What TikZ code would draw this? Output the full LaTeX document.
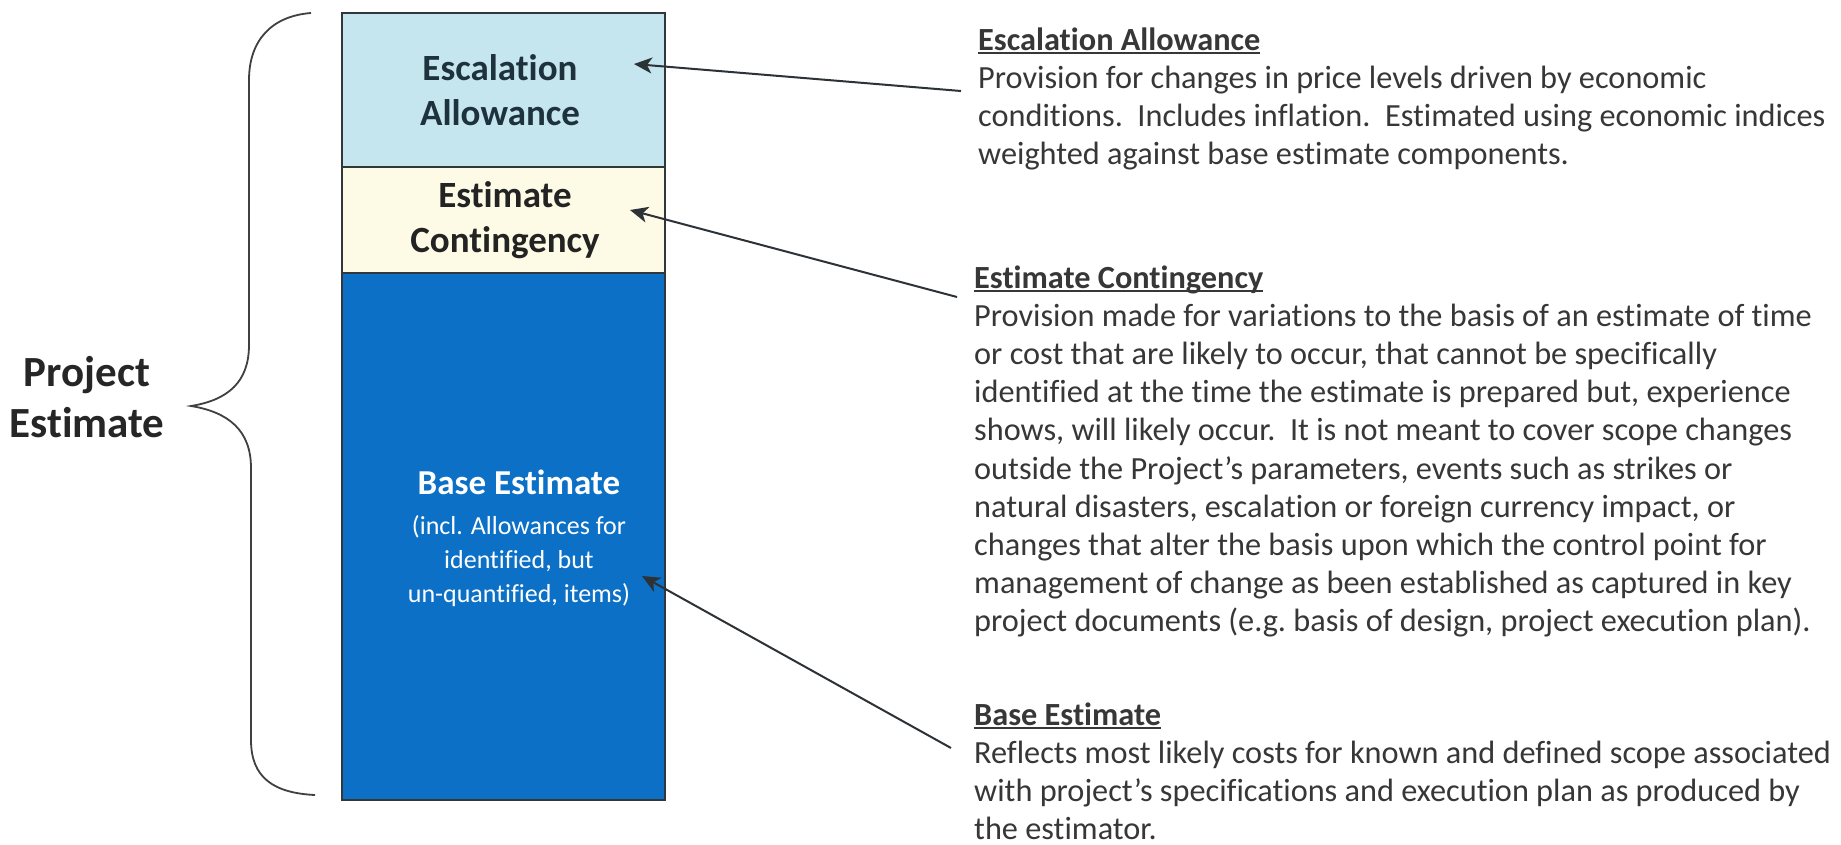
\documentclass[tikz,border=0pt]{standalone}
\usepackage{fontspec}
\setmainfont{Carlito}[Ligatures=NoCommon]
\usetikzlibrary{arrows.meta}
\definecolor{escfill}{RGB}{198,230,239}
\definecolor{confill}{RGB}{253,251,230}
\definecolor{basefill}{RGB}{11,112,198}
\definecolor{boxline}{RGB}{50,55,60}
\definecolor{esctext}{RGB}{30,50,62}
\definecolor{context}{RGB}{35,35,35}
\definecolor{bodytext}{RGB}{55,55,55}
\definecolor{arrowc}{RGB}{45,50,55}
\newcommand\hd[1]{\leavevmode\setbox0=\hbox{\bfseries #1}\rlap{\rule[-3.5pt]{\wd0}{1.8pt}}\box0}
\begin{document}
\begin{tikzpicture}[x=1pt,y=-1pt,
  layer/.style={draw=boxline,line width=2pt,rectangle,inner sep=0pt,anchor=north west},
  boxtitle/.style={inner sep=0pt,anchor=base,font=\fontsize{37}{45}\selectfont\bfseries},
  smalltext/.style={inner sep=0pt,anchor=base,font=\fontsize{26}{34}\selectfont,text=white},
  bigtitle/.style={inner sep=0pt,anchor=base,font=\fontsize{43}{51}\selectfont\bfseries,text=black!85},
  desc/.style={inner sep=0pt,anchor=base west,text=bodytext,font=\fontsize{32.3}{38.2}\selectfont},
  pointer/.style={draw=arrowc,line width=2pt,-{Stealth[length=18pt,width=16pt,inset=5pt]}},
  bracestyle/.style={draw=black!75,line width=1.8pt}]
\useasboundingbox (0,0) rectangle (1841,844);
\fill[white] (0,0) rectangle (1841,844);
% stacked layers
\node[layer,fill=basefill,minimum width=323pt,minimum height=527pt] (base) at (341,272) {};
\node[layer,fill=confill,minimum width=323pt,minimum height=106pt] (con) at (341,166) {};
\node[layer,fill=escfill,minimum width=323pt,minimum height=154pt] (esc) at (341,12) {};
% layer titles
\node[boxtitle,text=esctext] (esct) at (500,80) {\parbox[t]{320pt}{\centering Escalation\\Allowance}};
\node[boxtitle,text=context] (cont) at (505,207) {\parbox[t]{320pt}{\centering Estimate\\Contingency}};
\node[boxtitle,font=\fontsize{35}{43}\selectfont\bfseries,text=white] (baset) at (519,494) {Base Estimate};
\node[smalltext] (basesub) at (519,534) {\parbox[t]{320pt}{\centering (incl. Allowances for\\identified, but\\un-quantified, items)}};
% project estimate + brace
\node[bigtitle] (proj) at (87,386) {\parbox[t]{200pt}{\centering Project\\Estimate}};
\draw[bracestyle] (311,13) .. controls (272,16) and (249,40) .. (249,80) -- (249,345)
  .. controls (249,382) and (228,400) .. (191,406)
  .. controls (228,412) and (251,430) .. (251,468) -- (251,740)
  .. controls (251,778) and (274,793) .. (315,795);
% descriptions
\node[desc] (escd) at (978,50) {\parbox[t]{860pt}{\raggedright\hd{Escalation Allowance}\\
Provision for changes in price levels driven by economic\\
conditions.\ \ Includes inflation.\ \ Estimated using economic indices\\
weighted against base estimate components.}};
\node[desc] (cond) at (974,288) {\parbox[t]{860pt}{\raggedright\hd{Estimate Contingency}\\
Provision made for variations to the basis of an estimate of time\\
or cost that are likely to occur, that cannot be specifically\\
identified at the time the estimate is prepared but, experience\\
shows, will likely occur.\ \ It is not meant to cover scope changes\\
outside the Project’s parameters, events such as strikes or\\
natural disasters, escalation or foreign currency impact, or\\
changes that alter the basis upon which the control point for\\
management of change as been established as captured in key\\
project documents (e.g.\ basis of design, project execution plan).}};
\node[desc] (based) at (974,725) {\parbox[t]{860pt}{\raggedright\hd{Base Estimate}\\
Reflects most likely costs for known and defined scope associated\\
with project’s specifications and execution plan as produced by\\
the estimator.}};
% pointers
\coordinate (escTail) at (961,91);
\coordinate (escHead) at (634,64);
\coordinate (conTail) at (957,297);
\coordinate (conHead) at (630,210);
\coordinate (baseTail) at (951,748);
\coordinate (baseHead) at (642,576);
\draw[pointer] (escTail) -- (escHead);
\draw[pointer] (conTail) -- (conHead);
\draw[pointer] (baseTail) -- (baseHead);
\end{tikzpicture}
\end{document}
